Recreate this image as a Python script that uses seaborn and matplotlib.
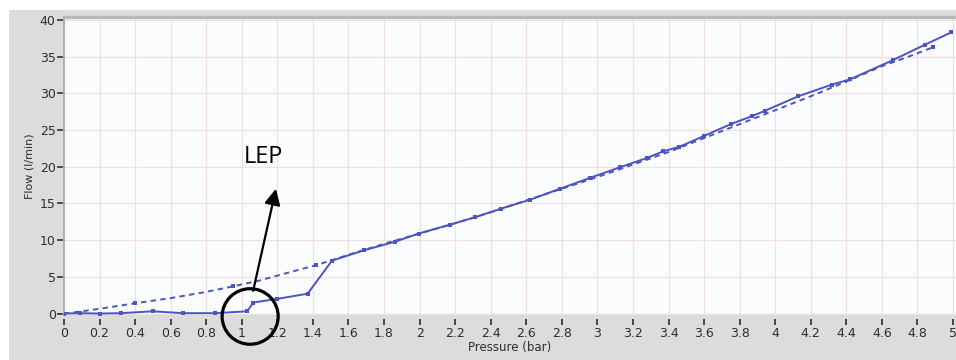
import matplotlib
matplotlib.use("Agg")
import matplotlib.pyplot as plt
import matplotlib.transforms as mtransforms
from matplotlib.patches import Rectangle, Ellipse
import numpy as np
import pandas as pd
import seaborn as sns

# Measured flow curve
measured_pressure = [0, 0.09, 0.2, 0.32, 0.5, 0.67, 0.85, 1.03, 1.065, 1.2, 1.37,
                     1.507, 1.685, 1.864, 1.995, 2.17, 2.31, 2.46, 2.62, 2.79, 2.96,
                     3.13, 3.28, 3.37, 3.46, 3.60, 3.75, 3.87, 3.94, 4.13, 4.32,
                     4.42, 4.66, 4.84, 4.99]
measured_flow = [0, 0.05, 0.0, 0.05, 0.3, 0.05, 0.05, 0.3, 1.5, 2.0, 2.7,
                 7.2, 8.6, 9.8, 10.9, 12.1, 13.1, 14.3, 15.5, 17.0, 18.5,
                 19.95, 21.2, 22.1, 22.7, 24.2, 25.8, 26.9, 27.6, 29.6, 31.2,
                 31.9, 34.5, 36.6, 38.3]

# Reference (open membrane) flow curve
reference_pressure = [0, 0.1, 0.2, 0.4, 0.6, 0.8, 0.95, 1.1, 1.25, 1.42, 1.6, 1.8,
                      2.0, 2.2, 2.4, 2.6, 2.8, 3.0, 3.2, 3.4, 3.6, 3.8, 4.0, 4.2,
                      4.4, 4.6, 4.75, 4.89]
reference_flow = [0, 0.3, 0.65, 1.4, 2.1, 2.95, 3.7, 4.5, 5.5, 6.6, 8.0, 9.5,
                  10.9, 12.3, 13.8, 15.4, 17.0, 18.6, 20.3, 22.0, 23.9, 25.8, 27.7, 29.6,
                  31.6, 33.7, 35.0, 36.3]
# points of the reference curve that carry a marker
reference_marked = [3, 6, 9, 27]

x_ticks = [0, 0.2, 0.4, 0.6, 0.8, 1, 1.2, 1.4, 1.6, 1.8, 2, 2.2, 2.4, 2.6, 2.8, 3,
           3.2, 3.4, 3.6, 3.8, 4, 4.2, 4.4, 4.6, 4.8, 5]
x_tick_labels = ["0", "0.2", "0.4", "0.6", "0.8", "1", "1.2", "1.4", "1.6", "1.8", "2",
                 "2.2", "2.4", "2.6", "2.8", "3", "3.2", "3.4", "3.6", "3.8", "4",
                 "4.2", "4.4", "4.6", "4.8", "5"]
y_ticks = [0, 5, 10, 15, 20, 25, 30, 35, 40]

sns.set_style("white", {"xtick.bottom": True, "ytick.left": True})
plt.rcParams["font.family"] = ["DejaVu Sans"]

W, H = 956, 360
fig = plt.figure(figsize=(W / 100, H / 100), dpi=100, facecolor="white")
fig.add_artist(Rectangle((9 / W, 0), 1 - 9 / W, 350 / H, transform=fig.transFigure,
                         facecolor="#dcdcdc", edgecolor="none", zorder=-10))

ax = fig.add_axes([64 / W, (H - 315) / H, (956 - 64) / W, (315 - 17) / H])
ax.set_zorder(1)
ax.set_facecolor("#fbfcfe")

line_color = "#4b54c0"
measured = pd.DataFrame({"Pressure": measured_pressure, "Flow": measured_flow})
reference = pd.DataFrame({"Pressure": reference_pressure, "Flow": reference_flow})

sns.lineplot(data=reference, x="Pressure", y="Flow", ax=ax, sort=False,
             color=line_color, linewidth=1.4, linestyle=(0, (2.8, 2.2)),
             marker="s", markersize=3.5, markeredgewidth=0,
             markevery=reference_marked, zorder=3)
sns.lineplot(data=measured, x="Pressure", y="Flow", ax=ax, sort=False,
             color=line_color, linewidth=1.4, marker="s", markersize=3,
             markeredgewidth=0, zorder=4)

ax.set_xlim(0, 5.017)
ax.set_ylim(-0.2, 40.4)
ax.set_xticks(x_ticks)
ax.set_xticklabels(x_tick_labels)
ax.set_yticks(y_ticks)

ax.grid(True, color="#efdfdf", linewidth=0.9)
ax.set_axisbelow(True)

for side in ("right", "bottom"):
    ax.spines[side].set_visible(False)
ax.spines["top"].set_color("#b9b9b9")
ax.spines["top"].set_linewidth(2.4)
ax.spines["left"].set_color("#a9a9a9")
ax.spines["left"].set_linewidth(1.2)
ax.spines["bottom"].set_position(("outward", 3))

ax.tick_params(axis="x", which="major", direction="out", length=4, width=1.4,
               color="#4a4a4a", labelsize=9, labelcolor="#2e2e2e", pad=1.5,
               bottom=True)
ax.tick_params(axis="y", which="major", direction="out", length=4, width=1.2,
               color="#4a4a4a", labelsize=9, labelcolor="#2e2e2e", pad=2,
               left=True)

# Short tick dashes, set a little apart from the plot edge
x_tick_tr = mtransforms.blended_transform_factory(ax.transData, ax.transAxes)
y_tick_tr = mtransforms.blended_transform_factory(ax.transAxes, ax.transData)
ax.vlines(x_ticks, -0.034, -0.013, transform=x_tick_tr, colors="#4a4a4a",
          linewidth=1.4, clip_on=False, zorder=5)
ax.hlines(y_ticks, -0.0075, -0.002, transform=y_tick_tr, colors="#4a4a4a",
          linewidth=1.3, clip_on=False, zorder=5)
ax.set_xlim(0, 5.017)
ax.set_ylim(-0.2, 40.4)

ax.set_xlabel("Pressure (bar)", fontsize=8.5, color="#2e2e2e", labelpad=1)
ax.set_ylabel("Flow (l/min)", fontsize=8, color="#2e2e2e", labelpad=4)

# LEP marker: circle, arrow and label
ax.add_patch(Ellipse((1.047, -0.4), 56 / 177.6, 56 / 7.4, fill=False,
                     edgecolor="black", linewidth=2.3, clip_on=False, zorder=6))
ax.annotate("", xy=(1.192, 17.0), xytext=(1.064, 3.1),
            arrowprops=dict(arrowstyle="-|>", mutation_scale=24, lw=1.6,
                            color="black", shrinkA=0, shrinkB=0), zorder=6)
ax.text(1.12, 21.3, "LEP", fontsize=17, family="Open Sans", color="black",
        ha="center", va="center", zorder=6)

fig.savefig("out.png", dpi=100, facecolor=fig.get_facecolor())
